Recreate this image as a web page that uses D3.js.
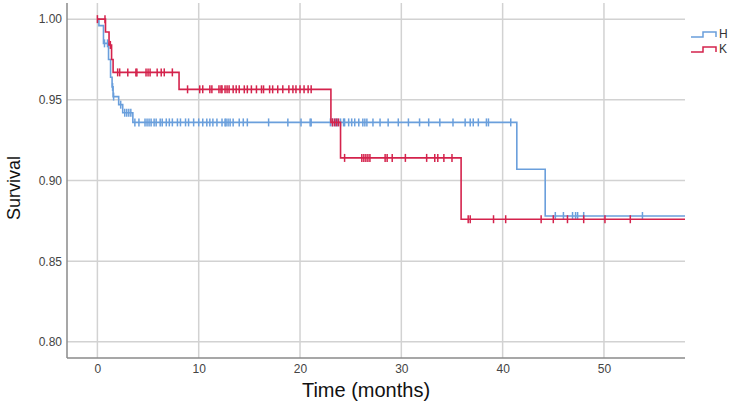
<!DOCTYPE html>
<html><head><meta charset="utf-8">
<script src="https://cdn.jsdelivr.net/npm/d3@7"></script>
<style>body{margin:0;background:#fff}svg{display:block}text{font-family:"Liberation Sans",Arial,sans-serif}</style>
</head><body><svg id="c" width="735" height="406"></svg>
<script>
// ---- data ----
const xTicks = [0, 10, 20, 30, 40, 50];
const yTicks = [0.80, 0.85, 0.90, 0.95, 1.00];
const groups = ["H", "K"];
const colors = ["#6a9fdc", "#d4234c"];
const endTime = 58;
// event (drop) times and survival after the drop
const hStepTimes = [0.15, 0.6, 1.1, 1.3, 1.45, 1.55, 2.1, 2.5, 3.5, 41.4, 44.2];
const hStepSurv  = [0.996, 0.985, 0.975, 0.964, 0.958, 0.952, 0.947, 0.942, 0.936, 0.907, 0.878];
const kStepTimes = [0.8, 1.15, 1.4, 1.55, 8.06, 23.05, 24.0, 35.9];
const kStepSurv  = [0.992, 0.984, 0.975, 0.967, 0.9565, 0.936, 0.914, 0.876];
// censored times
const hCensor = [0.7, 1.0, 1.5, 1.6, 2.3, 2.7, 2.9, 3.1, 3.3, 3.7, 4.1, 4.7, 4.9, 5.1, 5.3, 5.6, 5.8, 6.2, 6.4, 6.8, 7.1, 7.4, 7.9, 8.2, 8.7, 9.0, 9.5, 10.0, 10.4, 10.8, 11.1, 11.4, 11.8, 12.3, 12.6, 12.7, 12.9, 13.1, 13.4, 14.0, 14.4, 14.8, 16.9, 18.8, 20.1, 21.0, 21.1, 23.0, 23.2, 23.5, 23.7, 24.0, 24.3, 24.4, 24.8, 25.1, 25.4, 25.8, 26.2, 26.4, 26.6, 27.2, 27.9, 28.7, 29.7, 30.7, 31.8, 32.7, 33.8, 35.1, 36.3, 36.8, 37.1, 37.6, 38.4, 38.6, 40.8, 45.2, 46.0, 46.9, 47.2, 47.4, 48.0, 53.8];
const kCensor = [0, 0.75, 1.28, 2.0, 2.2, 3.0, 3.8, 3.9, 4.8, 5.0, 5.2, 5.9, 6.3, 6.6, 7.4, 8.9, 10.1, 10.4, 11.1, 11.3, 12.0, 12.2, 12.3, 12.6, 12.8, 13.0, 13.4, 13.7, 14.0, 14.5, 14.8, 15.2, 15.7, 16.2, 16.4, 17.0, 17.3, 17.8, 18.3, 18.9, 19.3, 19.6, 20.0, 20.4, 20.8, 21.1, 23.2, 23.4, 23.6, 23.8, 24.4, 26.1, 26.3, 26.5, 26.7, 26.9, 28.4, 28.6, 29.1, 30.4, 32.5, 33.3, 33.6, 34.2, 35.0, 36.6, 36.8, 39.1, 40.3, 43.8, 45.0, 46.4, 48.0, 50.1, 52.6];

// ---- chart ----
const svg = d3.select("#c");
const L = 67, R = 685, T = 3, B = 358;
const x = d3.scaleLinear().domain([-3, 58]).range([L, R]);
const y = d3.scaleLinear().domain([0.79, 1.01]).range([B, T]);

// grid
svg.append("g").selectAll("line").data(yTicks).join("line")
  .attr("x1", L).attr("x2", R).attr("y1", d => y(d)).attr("y2", d => y(d))
  .attr("stroke", "#d2d2d2").attr("stroke-width", 1.5);
svg.append("g").selectAll("line").data(xTicks).join("line")
  .attr("x1", d => x(d)).attr("x2", d => x(d)).attr("y1", T).attr("y2", B)
  .attr("stroke", "#d2d2d2").attr("stroke-width", 1.5);

// axes
const yAxis = svg.append("g").attr("transform", `translate(${L},0)`)
  .call(d3.axisLeft(y).tickValues(yTicks).tickFormat(d3.format(".2f")).tickSize(0).tickPadding(5));
const xAxis = svg.append("g").attr("transform", `translate(0,${B})`)
  .call(d3.axisBottom(x).tickValues(xTicks).tickSize(0).tickPadding(6));
[yAxis, xAxis].forEach(a => {
  a.select(".domain").remove();
  a.selectAll("text").attr("fill", "#444").style("font-size", "12px").style("font-family", "Liberation Sans, Arial, sans-serif");
});
svg.append("line").attr("x1", L).attr("x2", L).attr("y1", T).attr("y2", B).attr("stroke", "#8a8a8a").attr("stroke-width", 1.5);
svg.append("line").attr("x1", L).attr("x2", R).attr("y1", B).attr("y2", B).attr("stroke", "#8a8a8a").attr("stroke-width", 1.5);

// curves
function stepPts(times, surv) {
  const pts = [[0, 1]];
  let prev = 1;
  times.forEach((t, i) => { pts.push([t, prev]); pts.push([t, surv[i]]); prev = surv[i]; });
  pts.push([endTime, prev]);
  return pts;
}
function survAt(times, surv, t) {
  let s = 1;
  times.forEach((tt, i) => { if (tt <= t) s = surv[i]; });
  return s;
}
const line = d3.line().x(d => x(d[0])).y(d => y(d[1]));
const series = [
  {times: hStepTimes, surv: hStepSurv, cens: hCensor, color: colors[0]},
  {times: kStepTimes, surv: kStepSurv, cens: kCensor, color: colors[1]}
];
series.forEach(s => {
  svg.append("path").attr("d", line(stepPts(s.times, s.surv)))
    .attr("fill", "none").attr("stroke", s.color).attr("stroke-width", 1.6);
  svg.append("g").selectAll("line").data(s.cens).join("line")
    .attr("x1", d => x(d)).attr("x2", d => x(d))
    .attr("y1", d => y(survAt(s.times, s.surv, d)) - 4)
    .attr("y2", d => y(survAt(s.times, s.surv, d)) + 4)
    .attr("stroke", s.color).attr("stroke-width", 1.5);
});

// legend
groups.forEach((g, i) => {
  const cy = 37 + i * 15;
  svg.append("path")
    .attr("d", `M691,${cy} H703 V${cy - 5} H716 V${cy}`)
    .attr("fill", "none").attr("stroke", colors[i]).attr("stroke-width", 1.5);
  svg.append("text").attr("x", 719).attr("y", cy + 1).text(g)
    .attr("fill", "#333").style("font-size", "12px");
});

// axis titles
svg.append("text").attr("x", 366).attr("y", 397).attr("text-anchor", "middle")
  .attr("fill", "#111").style("font-size", "20px").attr("transform", "translate(0,0)")
  .text("Time (months)");
svg.append("text").attr("transform", "translate(20,188) rotate(-90)").attr("text-anchor", "middle")
  .attr("fill", "#111").style("font-size", "18px").text("Survival");
</script></body></html>
